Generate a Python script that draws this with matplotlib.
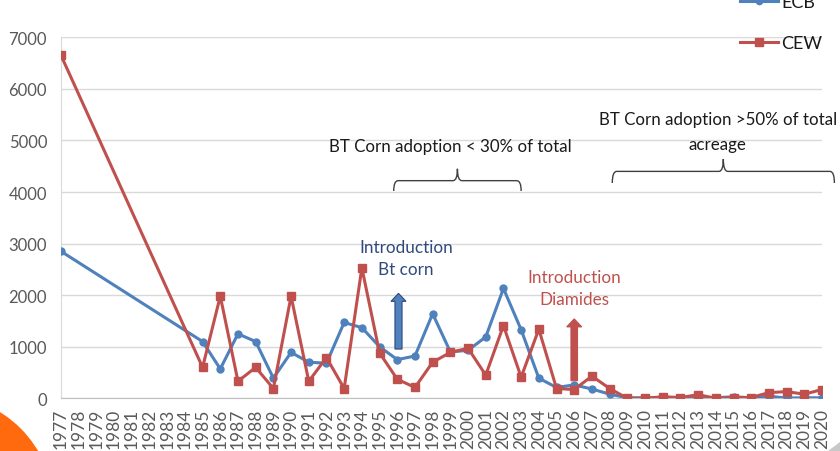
import matplotlib
matplotlib.use("Agg")
import matplotlib.pyplot as plt
import numpy as np
from matplotlib.path import Path
from matplotlib.patches import PathPatch, FancyArrow, Ellipse, Polygon

plt.rcParams['font.family'] = ['Lato', 'DejaVu Sans']

# data (1978-1984 have no data)
years = list(range(1977, 2021))
ecb = [2850, np.nan, np.nan, np.nan, np.nan, np.nan, np.nan, np.nan,
       1100, 570, 1250, 1100, 390, 890, 700, 680, 1470, 1370, 1000,
       750, 820, 1640, 900, 930, 1190, 2130, 1330, 390, 210, 260, 180,
       80, 10, 10, 10, 15, 5, 10, 30, 10, 40, 5, 10, 10]
cew = [6650, np.nan, np.nan, np.nan, np.nan, np.nan, np.nan, np.nan,
       600, 1980, 330, 600, 190, 1980, 330, 790, 190, 2530, 880,
       370, 210, 700, 890, 970, 450, 1410, 410, 1340, 190, 170, 430,
       190, 0, 0, 30, 15, 70, 0, 15, 15, 110, 130, 80, 170]

series_names = ['ECB', 'CEW']
blue = '#4F81BD'
red = '#C0504D'

fig = plt.figure(figsize=(8.4, 4.52), dpi=100)
ax = fig.add_axes([61 / 840, 1 - 399.3 / 452, (822 - 61) / 840, (399.3 - 38.3) / 452])

x = np.arange(len(years))
ecb_a = np.array(ecb, dtype=float)
cew_a = np.array(cew, dtype=float)
m1 = ~np.isnan(ecb_a)
m2 = ~np.isnan(cew_a)
ax.plot(x[m1], ecb_a[m1], color=blue, lw=2.2, marker='o', ms=5, label=series_names[0], zorder=3)
ax.plot(x[m2], cew_a[m2], color=red, lw=2.2, marker='s', ms=6, label=series_names[1], zorder=4)

ax.set_xlim(0, len(years) - 1)
ax.set_ylim(0, 7000)
ax.set_yticks(range(0, 7001, 1000))
ax.set_xticks(x)
ax.set_xticklabels([str(y) for y in years], rotation=90, fontsize=12.5, color='#595959')
ax.tick_params(axis='y', length=0, pad=10, labelsize=12, labelcolor='#595959')
ax.tick_params(axis='x', length=0, pad=7)
ax.grid(axis='y', color='#D9D9D9', lw=1)
ax.set_axisbelow(True)
for s in ['top', 'right']:
    ax.spines[s].set_visible(False)
ax.spines['left'].set_color('#D9D9D9')
ax.spines['bottom'].set_color('#BFBFBF')


def brace(x0, x1, y, y_tip, y_low):
    xm = (x0 + x1) / 2
    d = 0.25
    verts = [(x0, y_low), (x0, y), (x0 + d, y), (xm - d, y), (xm, y), (xm, y_tip),
             (xm, y_tip), (xm, y), (xm + d, y), (x1 - d, y), (x1, y), (x1, y_low)]
    codes = [Path.MOVETO, Path.CURVE3, Path.CURVE3, Path.LINETO, Path.CURVE3, Path.CURVE3,
             Path.MOVETO, Path.CURVE3, Path.CURVE3, Path.LINETO, Path.CURVE3, Path.CURVE3]
    ax.add_patch(PathPatch(Path(verts, codes), fill=False, ec='#404040', lw=1, clip_on=False, zorder=5))


brace(years.index(1996) - 0.2, years.index(2003), 4220, 4450, 4020)
brace(years.index(2008) + 0.15, 43.7, 4400, 4640, 4175)

ax.text(22, 4890, 'BT Corn adoption < 30% of total', ha='center', va='center', fontsize=12.2, color='#1a1a1a')
ax.text(37.1, 5170, 'BT Corn adoption >50% of total\nacreage', ha='center', va='center',
        fontsize=12.2, color='#1a1a1a', linespacing=1.65)

ax.text(19.5, 2720, 'Introduction\nBt corn', ha='center', va='center', fontsize=12.3,
        color='#2E4A7D', linespacing=1.45, zorder=6)
ax.text(29.0, 2140, 'Introduction\nDiamides', ha='center', va='center', fontsize=12.3,
        color=red, linespacing=1.45, zorder=6)

ax.add_patch(FancyArrow(years.index(1996) + 0.07, 955, 0, 1080, width=0.4, head_width=0.85,
                        head_length=155, length_includes_head=True, fc=blue, ec='#2F4B7A', lw=0.8, zorder=6))
ax.add_patch(FancyArrow(years.index(2006), 340, 0, 1200, width=0.37, head_width=0.85,
                        head_length=155, length_includes_head=True, fc=red, ec=red, lw=0.8, zorder=6))

leg = ax.legend(loc='upper left', bbox_to_anchor=(740 / 840, 1.011), bbox_transform=fig.transFigure,
                frameon=False, fontsize=13, handlelength=2.1, handletextpad=0.2,
                labelspacing=1.4, borderpad=0, borderaxespad=0, markerscale=0.9)
for t in leg.get_texts():
    t.set_color('#1a1a1a')

# slide decorations: orange circle bottom-left, shadow corner bottom-right
fig.patches.append(Ellipse((-60 / 840, 1 - 510 / 452), 228 / 840, 228 / 452,
                           transform=fig.transFigure, fc='#FF6A0E', ec='none', zorder=10))
fig.patches.append(Polygon([(828 / 840, 0), (1, 0), (1, 9 / 452)], closed=True,
                           transform=fig.transFigure, fc='#C8C8C8', ec='none', zorder=10))

fig.savefig('out.png', dpi=100)
